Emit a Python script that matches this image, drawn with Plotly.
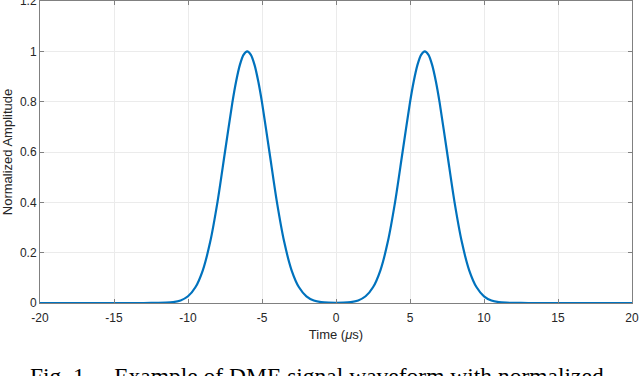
import plotly.graph_objects as go

# DME pulse pair, sampled off the reference curve (time in microseconds)
time_us = [
    -20, -16, -13, -12.5, -12, -11.5, -11, -10.5, -10, -9.5, -9, -8.5, -8,
    -7.5, -7, -6.75, -6.5, -6.25, -6, -5.75, -5.5, -5.25, -5, -4.5, -4, -3.5,
    -3, -2.5, -2, -1.5, -1, -0.5, 0, 0.5, 1, 1.5, 2, 2.5, 3, 3.5, 4, 4.5, 5,
    5.25, 5.5, 5.75, 6, 6.25, 6.5, 6.75, 7, 7.5, 8, 8.5, 9, 9.5, 10, 10.5,
    11, 11.5, 12, 12.5, 13, 16, 20,
]
amplitude = [
    0, 0, 0, 0.0001, 0.0003, 0.0011, 0.0035, 0.0102, 0.0267, 0.0624, 0.130,
    0.243, 0.404, 0.601, 0.797, 0.880, 0.945, 0.986, 1.0, 0.986, 0.945,
    0.880, 0.797, 0.601, 0.404, 0.243, 0.130, 0.0624, 0.0267, 0.0102,
    0.0035, 0.0011, 0.0005, 0.0011, 0.0035, 0.0102, 0.0267, 0.0624, 0.130,
    0.243, 0.404, 0.601, 0.797, 0.880, 0.945, 0.986, 1.0, 0.986, 0.945,
    0.880, 0.797, 0.601, 0.404, 0.243, 0.130, 0.0624, 0.0267, 0.0102,
    0.0035, 0.0011, 0.0003, 0.0001, 0, 0, 0,
]

x_ticks = [-20, -15, -10, -5, 0, 5, 10, 15, 20]
x_ticktext = ["-20", "-15", "-10", "-5", "0", "5", "10", "15", "20"]
y_ticks = [0, 0.2, 0.4, 0.6, 0.8, 1.0, 1.2]
y_ticktext = ["0", "0.2", "0.4", "0.6", "0.8", "1", "1.2"]

caption = "Fig. 1.\u00a0\u00a0\u00a0\u00a0Example of DME signal waveform with normalized"

axis_color = "#808080"
grid_color = "#ebebeb"
font_color = "#262626"

fig = go.Figure()

fig.add_trace(
    go.Scatter(
        x=time_us,
        y=amplitude,
        mode="lines",
        line=dict(color="#0072BD", width=2.2, shape="spline", smoothing=0.8),
        showlegend=False,
    )
)

common_axis = dict(
    showline=True,
    linecolor=axis_color,
    linewidth=1,
    mirror="ticks",
    ticks="inside",
    ticklen=4,
    tickcolor=axis_color,
    showgrid=True,
    gridcolor=grid_color,
    gridwidth=1,
    zeroline=False,
    automargin=False,
    ticklabeloverflow="allow",
    tickfont=dict(family="Liberation Sans", size=12, color=font_color),
)

fig.update_layout(
    width=640,
    height=376,
    paper_bgcolor="white",
    plot_bgcolor="white",
    margin=dict(l=40, r=8, t=1, b=73),
    xaxis=dict(
        range=[-20, 20],
        tickvals=x_ticks,
        ticktext=x_ticktext,
        ticklabelstandoff=4,
        title=dict(
            text="Time (<i>μ</i>s)",
            font=dict(family="Liberation Sans", size=13, color=font_color),
            standoff=5,
        ),
        **common_axis,
    ),
    yaxis=dict(
        range=[0, 1.2],
        tickvals=y_ticks,
        ticktext=y_ticktext,
        title=dict(
            text="Normalized Amplitude",
            font=dict(family="Liberation Sans", size=13, color=font_color),
            standoff=4,
        ),
        **common_axis,
    ),
    annotations=[
        dict(
            text=caption,
            xref="paper",
            yref="paper",
            x=-0.021,
            y=-0.243,
            xanchor="left",
            yanchor="middle",
            showarrow=False,
            font=dict(family="Liberation Serif", size=23.5, color="#000000"),
        )
    ],
)

# drop the page's default body margin so the chart sits at the top-left corner
fig.write_html(
    "out.html",
    config={"displayModeBar": False},
    post_script="document.body.style.margin = '0';",
)
